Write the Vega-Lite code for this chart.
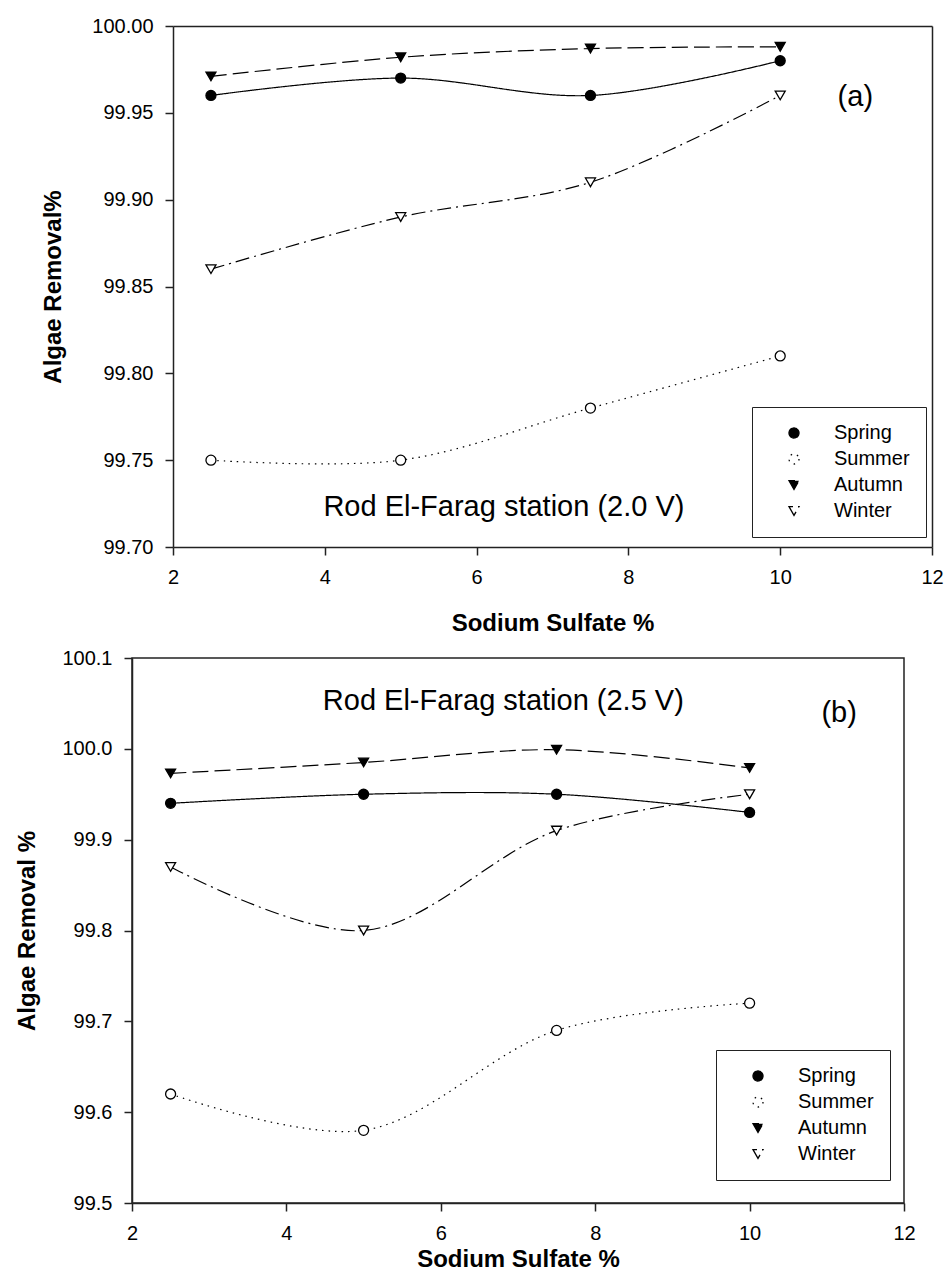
{
  "$schema": "https://vega.github.io/schema/vega-lite/v6.json",
  "padding": {"left": 15, "top": 16, "right": 5, "bottom": 5},
  "background": "white",
  "bounds": "flush",
  "spacing": 111,
  "config": {
    "font": "Liberation Sans",
    "view": {"stroke": "#222", "strokeWidth": 1.5},
    "axis": {
      "domainColor": "#222", "domainWidth": 1.5, "tickColor": "#222", "tickWidth": 1.5, "tickSize": 8,
      "labelFont": "Liberation Sans", "labelFontSize": 20, "labelColor": "#000", "labelPadding": 12,
      "titleFont": "Liberation Sans", "titleFontSize": 24, "titleFontWeight": "bold", "titleColor": "#000",
      "grid": false, "labelFlush": false, "labelOverlap": false
    },
    "legend": {
      "strokeColor": "#222", "fillColor": "white", "padding": 16,
      "labelFont": "Liberation Sans", "labelFontSize": 20, "labelColor": "#000",
      "symbolSize": 100, "symbolStrokeColor": "#000", "symbolStrokeWidth": 1.3,
      "rowPadding": 6, "labelOffset": 30, "symbolOffset": 16
    }
  },
  "datasets": {
    "a": [
      {"x": 2.5, "y": 99.96, "season": "Spring"},
      {"x": 5, "y": 99.97, "season": "Spring"},
      {"x": 7.5, "y": 99.96, "season": "Spring"},
      {"x": 10, "y": 99.98, "season": "Spring"},
      {"x": 2.5, "y": 99.75, "season": "Summer"},
      {"x": 5, "y": 99.75, "season": "Summer"},
      {"x": 7.5, "y": 99.78, "season": "Summer"},
      {"x": 10, "y": 99.81, "season": "Summer"},
      {"x": 2.5, "y": 99.971, "season": "Autumn"},
      {"x": 5, "y": 99.982, "season": "Autumn"},
      {"x": 7.5, "y": 99.987, "season": "Autumn"},
      {"x": 10, "y": 99.988, "season": "Autumn"},
      {"x": 2.5, "y": 99.86, "season": "Winter"},
      {"x": 5, "y": 99.89, "season": "Winter"},
      {"x": 7.5, "y": 99.91, "season": "Winter"},
      {"x": 10, "y": 99.96, "season": "Winter"}
    ],
    "b": [
      {"x": 2.5, "y": 99.94, "season": "Spring"},
      {"x": 5, "y": 99.95, "season": "Spring"},
      {"x": 7.5, "y": 99.95, "season": "Spring"},
      {"x": 10, "y": 99.93, "season": "Spring"},
      {"x": 2.5, "y": 99.62, "season": "Summer"},
      {"x": 5, "y": 99.58, "season": "Summer"},
      {"x": 7.5, "y": 99.69, "season": "Summer"},
      {"x": 10, "y": 99.72, "season": "Summer"},
      {"x": 2.5, "y": 99.973, "season": "Autumn"},
      {"x": 5, "y": 99.985, "season": "Autumn"},
      {"x": 7.5, "y": 99.999, "season": "Autumn"},
      {"x": 10, "y": 99.979, "season": "Autumn"},
      {"x": 2.5, "y": 99.87, "season": "Winter"},
      {"x": 5, "y": 99.80, "season": "Winter"},
      {"x": 7.5, "y": 99.91, "season": "Winter"},
      {"x": 10, "y": 99.95, "season": "Winter"}
    ],
    "annA": [
      {"x": 6.36, "y": 99.723, "label": "Rod El-Farag station (2.0 V)"},
      {"x": 10.99, "y": 99.959, "label": "(a)"}
    ],
    "annB": [
      {"x": 6.81, "y": 100.053, "label": "Rod El-Farag station (2.5 V)"},
      {"x": 11.16, "y": 100.04, "label": "(b)"}
    ]
  },
  "resolve": {
    "scale": {"shape": "independent", "fill": "independent", "strokeDash": "independent"},
    "legend": {"shape": "independent", "fill": "independent", "strokeDash": "independent"}
  },
  "vconcat": [
    {
      "width": 800, "height": 521,
      "view": {"stroke": null},
      "resolve": {"axis": {"x": "independent", "y": "independent"}},
      "layer": [
        {
          "data": {"name": "a"},
          "mark": {"type": "line", "interpolate": "catmull-rom", "strokeWidth": 1.2, "color": "#000"},
          "encoding": {
            "x": {"field": "x", "type": "quantitative", "scale": {"domain": [2, 12], "range": [41, 800]},
                  "axis": {"values": [2, 4, 6, 8, 10, 12], "format": "d", "title": "Sodium Sulfate %", "titlePadding": 24}},
            "y": {"field": "y", "type": "quantitative", "scale": {"domain": [99.7, 100], "zero": false},
                  "axis": {"offset": -41, "values": [99.7, 99.75, 99.8, 99.85, 99.9, 99.95, 100], "format": ".2f", "title": "Algae Removal%", "titlePadding": 26}},
            "strokeDash": {"field": "season", "type": "nominal",
                  "scale": {"domain": ["Spring", "Summer", "Autumn", "Winter"], "range": [[1, 0], [1.5, 5], [16, 6], [14, 5, 2, 5]]},
                  "legend": {"title": null, "orient": "none", "legendX": 620, "legendY": 381,
                             "encode": {"symbols": {"update": {"strokeDash": {"value": [1, 0]}}}}}}
          }
        },
        {
          "data": {"name": "a"},
          "mark": {"type": "point", "filled": true, "stroke": "#000", "strokeWidth": 1.3, "size": 100, "opacity": 1},
          "encoding": {
            "x": {"field": "x", "type": "quantitative", "axis": null},
            "y": {"field": "y", "type": "quantitative", "axis": null},
            "shape": {"field": "season", "type": "nominal",
                  "scale": {"domain": ["Spring", "Summer", "Autumn", "Winter"], "range": ["circle", "circle", "triangle-down", "triangle-down"]},
                  "legend": null},
            "fill": {"field": "season", "type": "nominal",
                  "scale": {"domain": ["Spring", "Summer", "Autumn", "Winter"], "range": ["#000", "#fff", "#000", "#fff"]},
                  "legend": null}
          }
        },
        {
          "data": {"name": "annA"},
          "mark": {"type": "text", "fontSize": 29, "font": "Liberation Sans", "color": "#000"},
          "encoding": {
            "x": {"field": "x", "type": "quantitative",
                  "axis": {"orient": "top", "labels": false, "ticks": false, "title": null}},
            "y": {"field": "y", "type": "quantitative",
                  "axis": {"orient": "right", "labels": false, "ticks": false, "title": null}},
            "text": {"field": "label"}
          }
        }
      ]
    },
    {
      "width": 772, "height": 545,
      "layer": [
        {
          "data": {"name": "b"},
          "mark": {"type": "line", "interpolate": "catmull-rom", "strokeWidth": 1.2, "color": "#000"},
          "encoding": {
            "x": {"field": "x", "type": "quantitative", "scale": {"domain": [2, 12]},
                  "axis": {"values": [2, 4, 6, 8, 10, 12], "format": "d", "title": "Sodium Sulfate %", "titlePadding": 4}},
            "y": {"field": "y", "type": "quantitative", "scale": {"domain": [99.5, 100.1], "zero": false},
                  "axis": {"values": [99.5, 99.6, 99.7, 99.8, 99.9, 100, 100.1], "format": ".1f", "title": "Algae  Removal %", "titlePadding": 22}},
            "strokeDash": {"field": "season", "type": "nominal",
                  "scale": {"domain": ["Spring", "Summer", "Autumn", "Winter"], "range": [[1, 0], [1.5, 5], [16, 6], [14, 5, 2, 5]]},
                  "legend": {"title": null, "orient": "none", "legendX": 584, "legendY": 392,
                             "encode": {"symbols": {"update": {"strokeDash": {"value": [1, 0]}}}}}}
          }
        },
        {
          "data": {"name": "b"},
          "mark": {"type": "point", "filled": true, "stroke": "#000", "strokeWidth": 1.3, "size": 100, "opacity": 1},
          "encoding": {
            "x": {"field": "x", "type": "quantitative"},
            "y": {"field": "y", "type": "quantitative"},
            "shape": {"field": "season", "type": "nominal",
                  "scale": {"domain": ["Spring", "Summer", "Autumn", "Winter"], "range": ["circle", "circle", "triangle-down", "triangle-down"]},
                  "legend": null},
            "fill": {"field": "season", "type": "nominal",
                  "scale": {"domain": ["Spring", "Summer", "Autumn", "Winter"], "range": ["#000", "#fff", "#000", "#fff"]},
                  "legend": null}
          }
        },
        {
          "data": {"name": "annB"},
          "mark": {"type": "text", "fontSize": 29, "font": "Liberation Sans", "color": "#000"},
          "encoding": {
            "x": {"field": "x", "type": "quantitative"},
            "y": {"field": "y", "type": "quantitative"},
            "text": {"field": "label"}
          }
        }
      ]
    }
  ]
}
